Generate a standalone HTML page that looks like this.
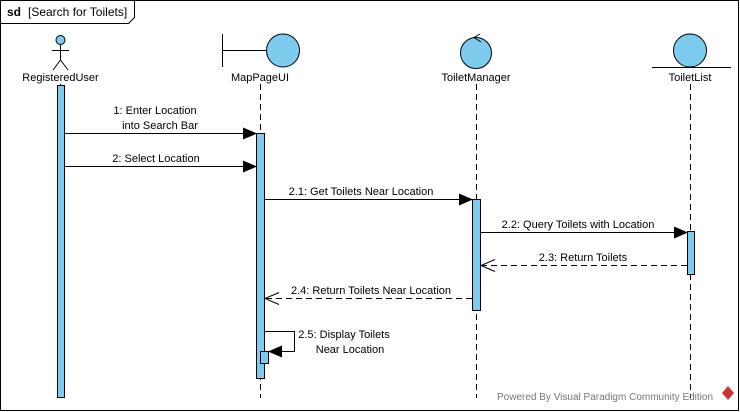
<!DOCTYPE html>
<html><head><meta charset="utf-8"><style>
html,body{margin:0;padding:0;background:#fff;}
svg{display:block;}
text{font-family:"Liberation Sans",sans-serif;font-size:11px;fill:#000;}
</style></head><body>
<svg width="740" height="412" viewBox="0 0 740 412" xmlns="http://www.w3.org/2000/svg">
<defs>
<marker id="fa" markerWidth="14" markerHeight="12" refX="13" refY="6" orient="auto" markerUnits="userSpaceOnUse"><path d="M0,0 L14,6 L0,12 Z" fill="#000"/></marker>
</defs>
<rect x="0.5" y="0.5" width="738" height="410" fill="#fff" stroke="#000"/>
<path d="M0.5,23.5 H128.5 L134.5,17.5 V0.5" fill="none" stroke="#000"/>
<text x="7" y="16" font-weight="bold" style="font-size:12px">sd</text>
<text x="28" y="16" style="font-size:12px">[Search for Toilets]</text>

<g stroke="#000" stroke-dasharray="6,4">
<line x1="60.5" y1="84" x2="60.5" y2="398"/>
<line x1="260.5" y1="84" x2="260.5" y2="398"/>
<line x1="476.5" y1="84" x2="476.5" y2="398"/>
<line x1="690.5" y1="84" x2="690.5" y2="398"/>
</g>

<g stroke="#000" fill="none">
<circle cx="60.5" cy="40" r="4.5" fill="#7ecbf0"/>
<line x1="60.5" y1="45" x2="60.5" y2="60"/>
<line x1="52" y1="50.5" x2="69" y2="50.5"/>
<line x1="60.5" y1="60" x2="53" y2="70"/>
<line x1="60.5" y1="60" x2="68" y2="70"/>
</g>
<text x="60.5" y="81" text-anchor="middle">RegisteredUser</text>

<g stroke="#000">
<line x1="222.5" y1="34" x2="222.5" y2="67"/>
<line x1="222.5" y1="50.5" x2="266" y2="50.5"/>
<circle cx="283" cy="50.5" r="16.5" fill="#7ecbf0"/>
</g>
<text x="260" y="81" text-anchor="middle">MapPageUI</text>

<g stroke="#000">
<circle cx="476" cy="53" r="15.5" fill="#7ecbf0"/>
<path d="M480,34 L474,37.5 L481,42" fill="none"/>
</g>
<text x="476" y="81" text-anchor="middle">ToiletManager</text>

<g stroke="#000">
<circle cx="690" cy="50.5" r="16.5" fill="#7ecbf0"/>
<line x1="652" y1="67.5" x2="731" y2="67.5"/>
</g>
<text x="690" y="81" text-anchor="middle">ToiletList</text>

<g fill="#7ecbf0" stroke="#000">
<rect x="57.5" y="85.5" width="7" height="312"/>
<rect x="256.5" y="133.5" width="8" height="245"/>
<rect x="472.5" y="199.5" width="8" height="111"/>
<rect x="687.5" y="231.5" width="7" height="43"/>
<rect x="260.5" y="351.5" width="8" height="12"/>
</g>

<g stroke="#000" fill="none">
<line x1="65" y1="133.5" x2="256" y2="133.5" marker-end="url(#fa)"/>
<line x1="65" y1="166.5" x2="256" y2="166.5" marker-end="url(#fa)"/>
<line x1="265" y1="199.5" x2="472" y2="199.5" marker-end="url(#fa)"/>
<line x1="481" y1="232.5" x2="687" y2="232.5" marker-end="url(#fa)"/>
<line x1="687" y1="265.5" x2="481" y2="265.5" stroke-dasharray="6,4"/>
<path d="M495,259.5 L481,265.5 L495,271.5"/>
<line x1="472" y1="298.5" x2="265" y2="298.5" stroke-dasharray="6,4"/>
<path d="M279,292.5 L265,298.5 L279,304.5"/>
<path d="M265,331.5 H294.5 V351.5 H269" marker-end="url(#fa)"/>
</g>
<text x="155" y="114" text-anchor="middle">1: Enter Location</text>
<text x="160" y="129" text-anchor="middle">into Search Bar</text>
<text x="156" y="162" text-anchor="middle">2: Select Location</text>
<text x="361" y="195" text-anchor="middle">2.1: Get Toilets Near Location</text>
<text x="578" y="228" text-anchor="middle">2.2: Query Toilets with Location</text>
<text x="583" y="261" text-anchor="middle">2.3: Return Toilets</text>
<text x="371" y="294" text-anchor="middle">2.4: Return Toilets Near Location</text>
<text x="344" y="338" text-anchor="middle">2.5: Display Toilets</text>
<text x="350" y="353" text-anchor="middle">Near Location</text>

<text x="497" y="400" style="font-size:10px;fill:#777">Powered By Visual Paradigm Community Edition</text>
<path d="M728,386 L734,393 L728,400 L722,393 Z" fill="#c33"/>
</svg>
</body></html>
